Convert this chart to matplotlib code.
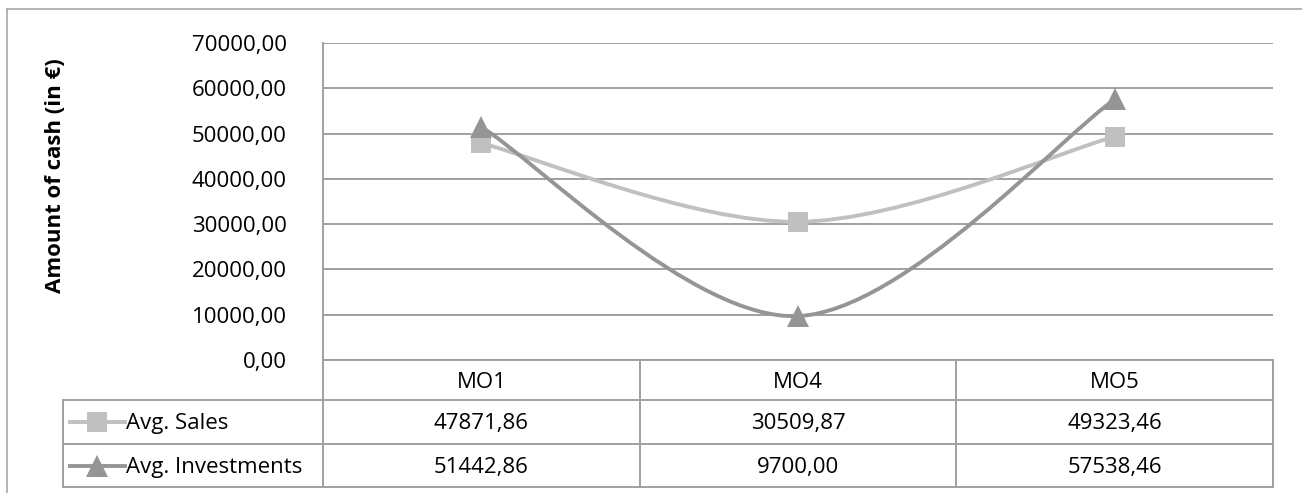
import matplotlib.pyplot as plt
from matplotlib.path import Path
from matplotlib.patches import PathPatch
from matplotlib.ticker import FuncFormatter, MultipleLocator
import matplotlib.transforms as mtransforms

plt.rcParams['font.family'] = ['Open Sans', 'DejaVu Sans']

# data
categories = ["MO1", "MO4", "MO5"]
avg_sales = [47871.86, 30509.87, 49323.46]
avg_investments = [51442.86, 9700.00, 57538.46]
series_names = ["Avg. Sales", "Avg. Investments"]

sales_color = "#c0c0c0"
inv_color = "#959595"
grid_color = "#a0a0a0"
fs = 16


def fmt(v):
    return f"{v:.2f}".replace(".", ",")


def smooth_path(xs, ys):
    # cubic bezier segments, control points like a spreadsheet "smoothed line"
    pts = list(zip(xs, ys))
    n = len(pts)
    verts = [pts[0]]
    codes = [Path.MOVETO]
    for i in range(n - 1):
        p0 = pts[i - 1] if i > 0 else pts[i]
        p1 = pts[i]
        p2 = pts[i + 1]
        p3 = pts[i + 2] if i + 2 < n else pts[i + 1]
        c1 = (p1[0] + (p2[0] - p0[0]) / 6, p1[1] + (p2[1] - p0[1]) / 6)
        c2 = (p2[0] - (p3[0] - p1[0]) / 6, p2[1] - (p3[1] - p1[1]) / 6)
        verts += [c1, c2, p2]
        codes += [Path.CURVE4] * 3
    return Path(verts, codes)


W, H = 1302, 493
fig = plt.figure(figsize=(W / 100, H / 100), dpi=100)

# plot area in pixels
left, right, top, bottom = 323, 1273, 43, 360
ax = fig.add_axes([left / W, 1 - bottom / H, (right - left) / W, (bottom - top) / H])

x = [i + 0.5 for i in range(len(categories))]
ax.set_xlim(0, len(categories))
ax.set_ylim(0, 70000)
ax.yaxis.set_major_locator(MultipleLocator(10000))
ax.yaxis.set_major_formatter(FuncFormatter(lambda v, p: fmt(v)))
ax.set_xticks([])
ax.tick_params(axis="y", length=0, pad=26, labelsize=fs, labelcolor="#000000")
ax.grid(axis="y", color=grid_color, linewidth=1.4)
ax.set_axisbelow(True)
for s in ["top", "right", "bottom"]:
    ax.spines[s].set_visible(False)
ax.spines["left"].set_color(grid_color)
ax.spines["left"].set_linewidth(1.4)

ax.set_ylabel("Amount of cash (in €)", fontsize=fs, fontweight="bold")
ax.yaxis.set_label_coords(-(left - 66) / (right - left), (bottom - 176) / (bottom - top))

# smoothed lines with markers
lw = 2.8
for vals, color, mk, ms in [(avg_sales, sales_color, "s", 14.4),
                            (avg_investments, inv_color, "^", 15.5)]:
    ax.add_patch(PathPatch(smooth_path(x, vals), fill=False, edgecolor=color,
                           linewidth=lw, capstyle="round", zorder=3))
    ax.plot(x, vals, linestyle="none", marker=mk, markersize=ms, color=color,
            markeredgewidth=0, zorder=3, clip_on=False)

# data table under the plot area
tr = mtransforms.blended_transform_factory(ax.transData, ax.transAxes)
unit = (right - left) / len(categories)


def yf(py):
    return (bottom - py) / (bottom - top)


def xd(px):
    return (px - left) / unit


rows_px = [360, 400, 444, 487]
x_head = xd(63)
line_kw = dict(color=grid_color, linewidth=1.4, transform=tr, clip_on=False)

ax.plot([0, len(categories)], [yf(rows_px[0])] * 2, **line_kw)
for py in rows_px[1:]:
    ax.plot([x_head, len(categories)], [yf(py)] * 2, **line_kw)
ax.plot([0, 0], [0, yf(rows_px[-1])], **line_kw)
ax.plot([x_head, x_head], [yf(rows_px[1]), yf(rows_px[-1])], **line_kw)
for i in range(1, len(categories) + 1):
    ax.plot([i, i], [yf(rows_px[0]), yf(rows_px[-1])], **line_kw)

cat_y = yf((rows_px[0] + rows_px[1]) / 2 + 2)
for xi, c in zip(x, categories):
    ax.text(xi, cat_y, c, transform=tr, ha="center", va="center", fontsize=fs)

row_vals = [avg_sales, avg_investments]
row_style = [(sales_color, "s", 14.4), (inv_color, "^", 15.5)]
for r in range(2):
    ry = yf((rows_px[r + 1] + rows_px[r + 2]) / 2 + 2)
    for xi, v in zip(x, row_vals[r]):
        ax.text(xi, ry, fmt(v), transform=tr, ha="center", va="center", fontsize=fs)
    color, mk, ms = row_style[r]
    ky = yf((rows_px[r + 1] + rows_px[r + 2]) / 2)
    ax.plot([xd(70), xd(125)], [ky, ky], color=color, linewidth=lw,
            transform=tr, clip_on=False)
    ax.plot([xd(97)], [ky], marker=mk, markersize=ms, color=color,
            markeredgewidth=0, transform=tr, clip_on=False)
    ax.text(xd(126), ry, series_names[r], transform=tr, ha="left", va="center",
            fontsize=fs)

# chart border (top and left edges)
fig.add_artist(plt.Line2D([7 / W, 1], [1 - 9 / H] * 2, color="#a8a8a8", linewidth=1.2))
fig.add_artist(plt.Line2D([7 / W] * 2, [0, 1 - 9 / H], color="#a8a8a8", linewidth=1.2))

fig.savefig("out.png", dpi=100)
